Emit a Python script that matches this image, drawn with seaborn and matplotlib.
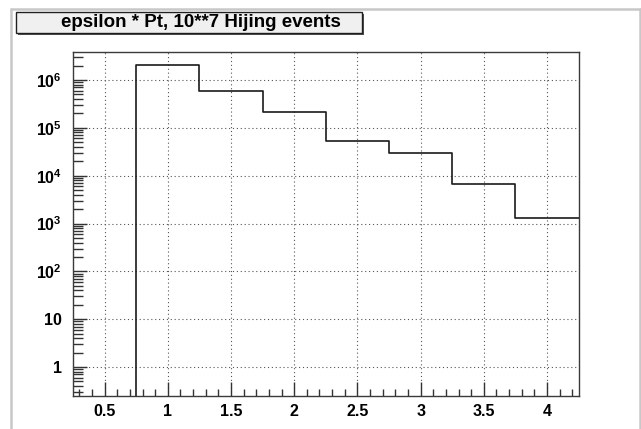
import numpy as np
import pandas as pd
import seaborn as sns
import matplotlib
matplotlib.use("Agg")
import matplotlib.pyplot as plt
from matplotlib.patches import Rectangle
from matplotlib.lines import Line2D
from matplotlib.ticker import FuncFormatter, MultipleLocator, LogLocator, FixedLocator

# ---- data ----
title = "epsilon * Pt, 10**7 Hijing events"
bin_edges = [0.25, 0.75, 1.25, 1.75, 2.25, 2.75, 3.25, 3.75, 4.25]
bin_counts = [0, 2.05e6, 5.9e5, 2.1e5, 5.2e4, 3.0e4, 6.8e3, 1.33e3]
x_ticks = [0.5, 1, 1.5, 2, 2.5, 3, 3.5, 4]
y_ticks = [1, 10, 1e2, 1e3, 1e4, 1e5, 1e6]

sns.set_theme(style="white")
plt.rcParams['font.family'] = ['Liberation Sans', 'DejaVu Sans']
plt.rcParams['mathtext.fontset'] = 'custom'
plt.rcParams['mathtext.rm'] = 'Liberation Sans:bold'
plt.rcParams['mathtext.bf'] = 'Liberation Sans:bold'
plt.rcParams['mathtext.it'] = 'Liberation Sans:bold'

W, H = 641, 429
fig = plt.figure(figsize=(W / 100, H / 100), dpi=100)
fig.patch.set_facecolor("white")

def fx(px):
    return px / W

def fy(py):
    return 1 - py / H

# pad border (light gray)
border_col = "#c8c8c8"
fig.add_artist(Line2D([fx(11), fx(11)], [fy(9), 0], transform=fig.transFigure, color=border_col, lw=1.8))
fig.add_artist(Line2D([fx(11), fx(639.5)], [fy(9), fy(9)], transform=fig.transFigure, color=border_col, lw=1.8))
fig.add_artist(Line2D([fx(639.5), fx(639.5)], [fy(9), 0], transform=fig.transFigure, color=border_col, lw=1.8))

ax = fig.add_axes([fx(73), fy(396), fx(578.6 - 73), (396 - 52) / H])

centers = [(a + b) / 2 for a, b in zip(bin_edges[:-1], bin_edges[1:])]
df = pd.DataFrame({"x": centers, "w": bin_counts})
sns.histplot(data=df, x="x", weights="w", bins=bin_edges, element="step",
             fill=False, color="#1a1a1a", linewidth=1.2, ax=ax)
ax.set_yscale("log")
ax.set_xlim(0.25, 4.25)
ax.set_ylim(0.248, 3.85e6)
ax.set_xlabel("")
ax.set_ylabel("")

ax.xaxis.set_major_locator(FixedLocator(x_ticks))
ax.xaxis.set_minor_locator(MultipleLocator(0.1))
ax.xaxis.set_major_formatter(FuncFormatter(lambda v, p: "%g" % v))
ax.yaxis.set_major_locator(FixedLocator(y_ticks))
ax.yaxis.set_minor_locator(LogLocator(base=10, subs=np.arange(2, 10), numticks=20))

def yfmt(v, p):
    n = int(round(np.log10(v)))
    if n == 0:
        return "1"
    if n == 1:
        return "10"
    return r"$\mathbf{10^{%d}}$" % n

ax.yaxis.set_major_formatter(FuncFormatter(yfmt))
ax.yaxis.set_minor_formatter(FuncFormatter(lambda v, p: ""))

ax.tick_params(axis="both", which="both", direction="in", left=True, bottom=True,
               right=False, top=False, colors="#333333", labelcolor="black")
ax.tick_params(axis="both", which="major", length=10, width=1)
ax.tick_params(axis="y", which="minor", length=7, width=1)
ax.tick_params(axis="x", which="minor", length=5, width=1)
ax.tick_params(axis="y", which="major", pad=8, labelsize=11.5)
ax.tick_params(axis="x", which="major", pad=6, labelsize=11.5)
for lab in ax.get_xticklabels() + ax.get_yticklabels():
    lab.set_fontweight("bold")

ax.grid(True, which="major", axis="both", color="#555555", linestyle=(0, (1, 2.5)), linewidth=0.8)
ax.set_axisbelow(True)
for s in ax.spines.values():
    s.set_color("#3a3a3a")
    s.set_linewidth(1.0)
    s.set_visible(True)

# title box with shadow
bx0, by0, bx1, by1 = 16, 12, 362, 33
fig.add_artist(Rectangle((fx(bx0 + 2), fy(by1 + 2)), fx(bx1 - bx0), (by1 - by0) / H,
                         transform=fig.transFigure, facecolor="#505050", edgecolor="none"))
fig.add_artist(Rectangle((fx(bx0), fy(by1)), fx(bx1 - bx0), (by1 - by0) / H,
                         transform=fig.transFigure, facecolor="#f0f0f0", edgecolor="#202020", linewidth=1))
fig.text(fx(201), fy(22.5), title, ha="center", va="center", fontsize=13.5,
         fontweight="bold", color="black")

fig.savefig("out.png", dpi=100)
